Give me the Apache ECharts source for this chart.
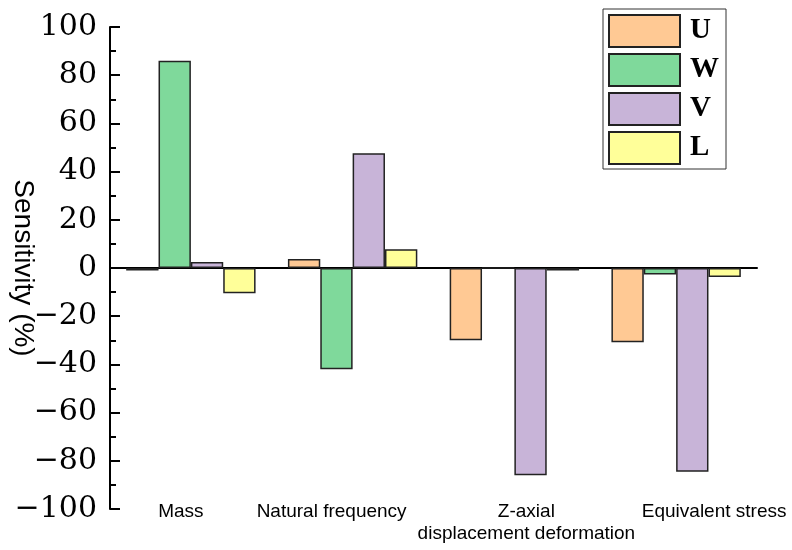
<!DOCTYPE html>
<html>
<head>
<meta charset="utf-8">
<script src="https://cdn.jsdelivr.net/npm/echarts@6/dist/echarts.min.js"></script>
<style>html,body{margin:0;padding:0;background:#fff}#c{width:792px;height:550px}</style>
</head>
<body>
<div id="c"></div>
<script>
const categories = ['Mass', 'Natural frequency', 'Z-axial\ndisplacement deformation', 'Equivalent stress'];
const seriesNames = ['U', 'W', 'V', 'L'];
const U = [-1, 3.7, -30, -30.8];
const W = [86, -42, 0, -2.7];
const V = [2.5, 47.6, -86, -84.5];
const L = [-10.5, 7.8, -1, -3.7];
const yTicks = [-100, -80, -60, -40, -20, 0, 20, 40, 60, 80, 100];

const colors = ['#FFC994', '#7FD99B', '#C8B4D8', '#FFFF99'];
const values = [U, W, V, L];
const labelPad = [[0, 20, 0, 0], [0, 42, 0, 0], [0, 0, 0, 24], [0, 0, 0, 76]];

const rich = {};
labelPad.forEach((p, i) => { rich['c' + i] = { padding: p, fontSize: 19, fontFamily: 'Liberation Sans', color: '#000', lineHeight: 22 }; });

const chart = echarts.init(document.getElementById('c'));
chart.setOption({
  animation: false,
  backgroundColor: '#fff',
  grid: { left: 110, right: 35, top: 27, bottom: 41, containLabel: false, outerBoundsMode: 'none' },
  legend: {
    orient: 'vertical', left: 603, top: 9,
    padding: [5, 7, 4, 5], itemGap: 5, itemWidth: 71, itemHeight: 32,
    borderColor: '#333', borderWidth: 1,
    icon: 'rect',
    textStyle: { fontFamily: 'Liberation Serif', fontWeight: 'bold', fontSize: 29, color: '#000', padding: [0, 0, 0, 5] },
    data: seriesNames
  },
  xAxis: [
    {
      type: 'category', data: categories, position: 'bottom',
      axisLine: { onZero: true, lineStyle: { color: '#000', width: 2 } },
      axisTick: { show: false }, axisLabel: { show: false }, splitLine: { show: false }
    },
    {
      type: 'category', data: categories, position: 'bottom',
      axisLine: { show: false, onZero: false }, axisTick: { show: false }, splitLine: { show: false },
      axisLabel: {
        margin: -8,
        interval: 0,
        formatter: function (v, i) {
          return v.split('\n').map(s => '{c' + i + '|' + s + '}').join('\n');
        },
        rich: rich
      }
    }
  ],
  yAxis: {
    type: 'value', min: -100, max: 100, interval: 20,
    name: 'Sensitivity (%)', nameLocation: 'middle', nameRotate: -90, nameGap: 73,
    nameMoveOverlap: false,
    nameTextStyle: { fontFamily: 'Liberation Sans', fontSize: 28, color: '#000' },
    axisLine: { show: true, lineStyle: { color: '#000', width: 2 } },
    axisTick: { show: true, inside: true, length: 10, lineStyle: { color: '#000', width: 2 } },
    minorTick: { show: true, splitNumber: 2, length: 6, lineStyle: { color: '#000', width: 2 } },
    splitLine: { show: false },
    axisLabel: {
      margin: 13, fontFamily: 'DejaVu Serif', fontSize: 30, color: '#000',
      formatter: function (v) { return yTicks.indexOf(v) >= 0 ? String(v).replace('-', '\u2212') : ''; }
    }
  },
  series: seriesNames.map((n, i) => ({
    name: n, type: 'bar', xAxisIndex: 0, data: values[i],
    barGap: '0%', barCategoryGap: '20%',
    itemStyle: { color: colors[i], borderColor: '#222', borderWidth: 1.5 }
  }))
});
</script>
</body>
</html>
